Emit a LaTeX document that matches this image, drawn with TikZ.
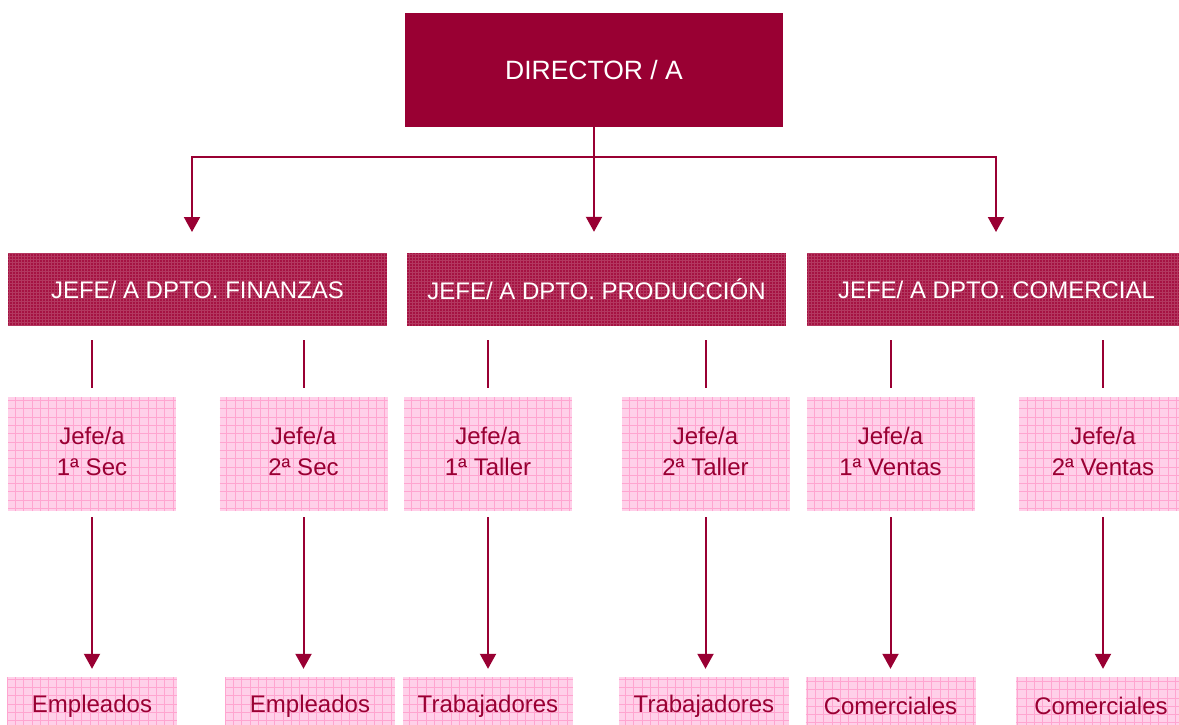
\documentclass[tikz,border=0pt]{standalone}
\usepackage{fontspec}
\setmainfont{Liberation Sans}
\usetikzlibrary{arrows.meta}
\definecolor{wine}{RGB}{153,0,51}
\definecolor{deptbase}{RGB}{165,18,66}
\definecolor{pinkbase}{RGB}{255,208,233}
\definecolor{pinkline}{RGB}{255,165,208}
\tikzset{
  dirbox/.style={fill=wine, text=white, inner sep=0pt,
    minimum width=378pt, minimum height=114pt,
    font=\fontsize{26.5}{30}\selectfont},
  deptbox/.style={fill=deptbase, text=white, inner sep=0pt,
    minimum width=379pt, minimum height=73pt,
    font=\fontsize{24}{28}\selectfont,
    path picture={\draw[white, opacity=0.16, line width=0.7pt, step=3pt]
      (path picture bounding box.south west) grid (path picture bounding box.north east);}},
  secbox/.style={fill=pinkbase, text=wine, inner sep=0pt, align=center,
    minimum width=168pt, minimum height=114pt,
    font=\fontsize{24}{31}\selectfont,
    path picture={\draw[pinkline, line width=0.8pt, step=8.3pt]
      (path picture bounding box.south west) grid (path picture bounding box.north east);}},
  empbox/.style={fill=pinkbase, text=wine, inner sep=0pt,
    minimum width=170pt, minimum height=58pt,
    font=\fontsize{24}{28}\selectfont,
    path picture={\draw[pinkline, line width=0.8pt, step=8.3pt]
      (path picture bounding box.south west) grid (path picture bounding box.north east);}},
  conn/.style={draw=wine, line width=2pt},
  arr/.style={conn, -{Triangle[width=16pt,length=15pt]}},
}
\begin{document}
\begin{tikzpicture}[x=1pt,y=-1pt]
\path[use as bounding box, clip] (0,0) rectangle (1179,724);
\fill[white] (0,0) rectangle (1179,724);

\node[dirbox] (dir) at (594,70) {DIRECTOR / A};

\node[deptbox] (d1) at (197.5,289.5) {JEFE/ A DPTO. FINANZAS};
\node[deptbox] (d2) at (596.5,289.5) {JEFE/ A DPTO. PRODUCCIÓN};
\node[deptbox] (d3) at (996.5,289.5) {JEFE/ A DPTO. COMERCIAL};

\node[secbox] (s1) at (92,454) {Jefe/a\\1ª Sec\rule[-6pt]{0pt}{0pt}};
\node[secbox] (s2) at (303.5,454) {Jefe/a\\2ª Sec\rule[-6pt]{0pt}{0pt}};
\node[secbox] (s3) at (488,454) {Jefe/a\\1ª Taller\rule[-6pt]{0pt}{0pt}};
\node[secbox] (s4) at (705.5,454) {Jefe/a\\2ª Taller\rule[-6pt]{0pt}{0pt}};
\node[secbox] (s5) at (890.5,454) {Jefe/a\\1ª Ventas\rule[-6pt]{0pt}{0pt}};
\node[secbox] (s6) at (1103,454) {Jefe/a\\2ª Ventas\rule[-6pt]{0pt}{0pt}};

\node[empbox] (e1) at (92,706) {Empleados};
\node[empbox] (e2) at (310,706) {Empleados};
\node[empbox] (e3) at (488,706) {Trabajadores};
\node[empbox] (e4) at (704,706) {Trabajadores};
\node[empbox] (e5) at (890.5,706) {Comerciales};
\node[empbox] (e6) at (1101,706) {Comerciales};

% director to departments
\draw[conn] (dir.south) -- ++(0,30) coordinate (hub);
\coordinate (t1) at (192,253);
\coordinate (t3) at (996,253);
\draw[arr, shorten >=21pt] (hub) -| (t1);
\draw[arr, shorten >=21pt] (hub) -- (d2.north -| hub);
\draw[arr, shorten >=21pt] (hub) -| (t3);

% departments to sections
\foreach \d/\s in {d1/s1, d1/s2, d2/s3, d2/s4, d3/s5, d3/s6}
  \draw[conn, shorten <=14pt, shorten >=9pt] (\s.north |- \d.south) -- (\s.north);

% sections to staff
\foreach \s/\e in {s1/e1, s2/e2, s3/e3, s4/e4, s5/e5, s6/e6}
  \draw[arr, shorten <=6pt, shorten >=8pt] (\s.south) -- (\s.south |- \e.north);
\end{tikzpicture}
\end{document}
